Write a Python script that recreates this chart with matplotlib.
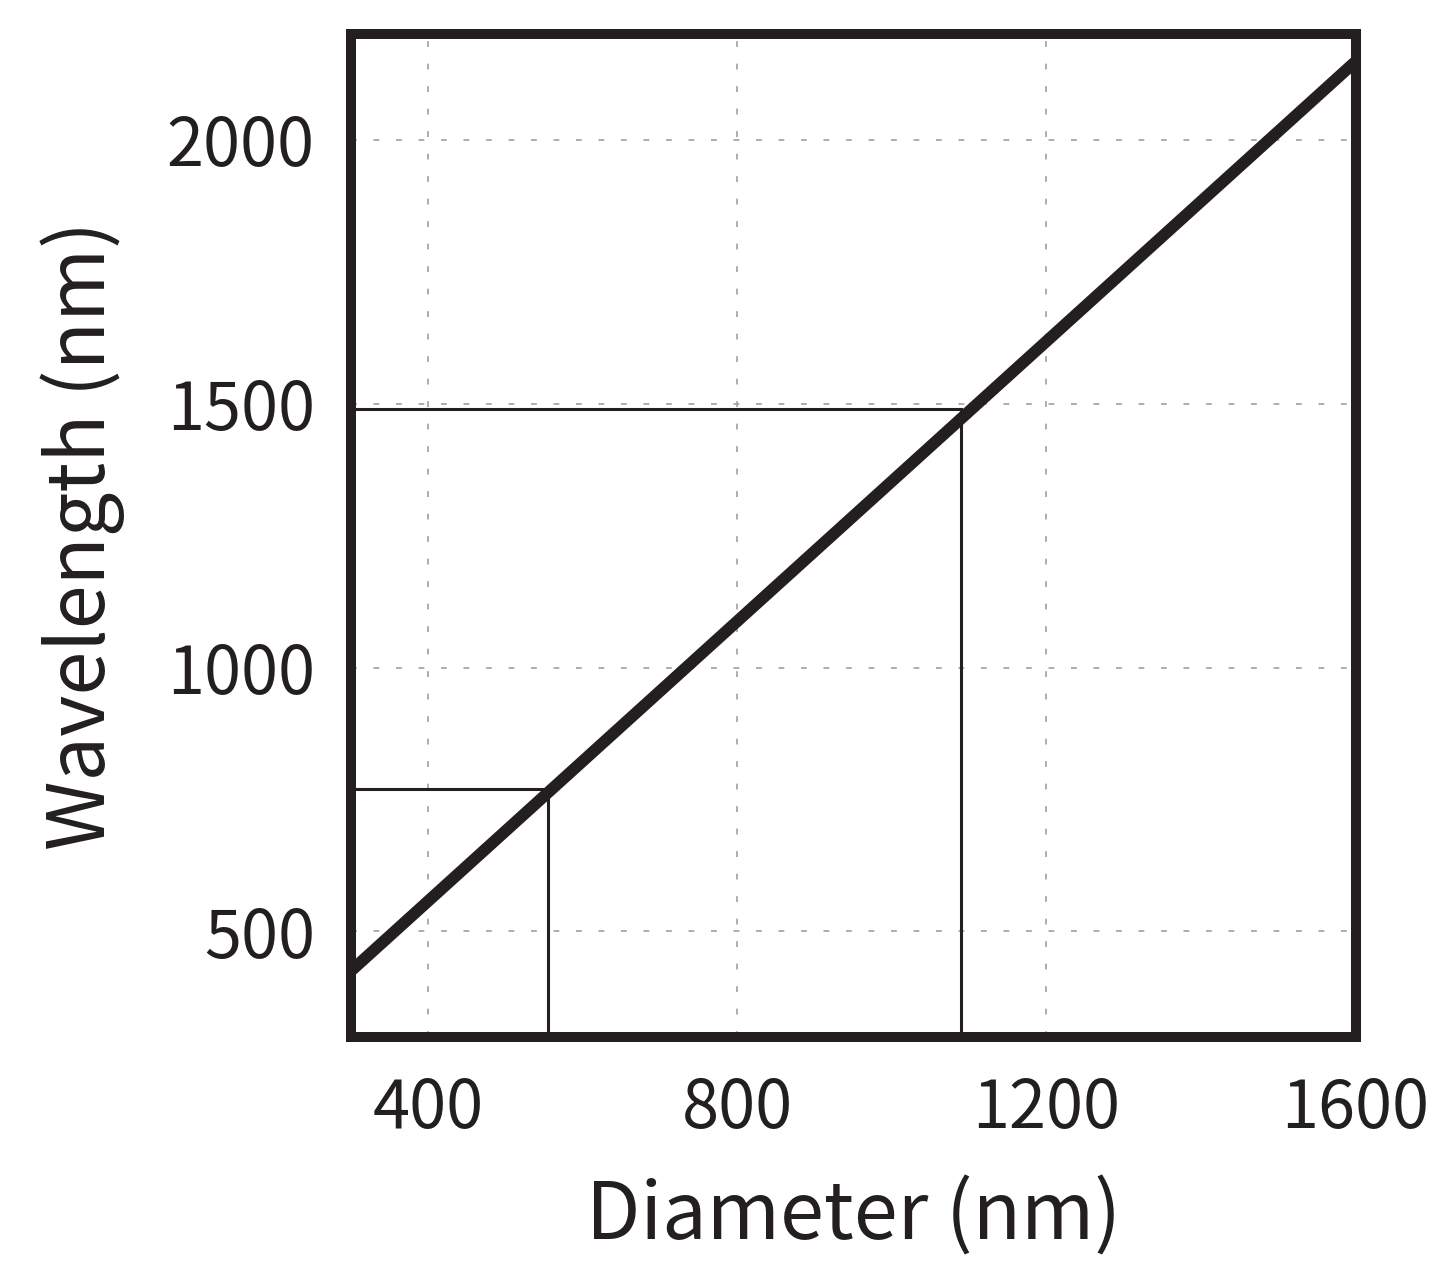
import matplotlib
matplotlib.use('Agg')
import matplotlib.pyplot as plt

plt.rcParams['font.family'] = ['Noto Sans CJK KR', 'DejaVu Sans']

# fitted line: diameter vs resonance wavelength
diameter = [300, 1600]
wavelength = [425, 2148]

# marked operating points
mark_d = [555, 1090]
mark_w = [770, 1490]

xticks = [400, 800, 1200, 1600]
yticks = [500, 1000, 1500, 2000]

ink = '#231f20'

fig = plt.figure(figsize=(14.56, 12.76), dpi=100)
ax = fig.add_axes([0.241, 0.1873, 0.69, 0.786])

ax.grid(True, color='#a0a0a0', linestyle=(0, (3.5, 10)), linewidth=1.2)
ax.set_axisbelow(True)

ax.plot(diameter, wavelength, color=ink, linewidth=8.5, solid_capstyle='butt', zorder=3)

for d, w in zip(mark_d, mark_w):
    ax.plot([300, d], [w, w], color=ink, linewidth=2.2, zorder=2)
    ax.plot([d, d], [w, 300], color=ink, linewidth=2.2, zorder=2)

ax.set_xlim(300, 1600)
ax.set_ylim(300, 2200)
ax.set_xticks(xticks)
ax.set_yticks(yticks)

ax.tick_params(direction='in', length=3, width=5, colors=ink, labelsize=48,
               top=True, right=True, pad=26)
ax.tick_params(axis='x', pad=28)
for s in ax.spines.values():
    s.set_linewidth(7.2)
    s.set_color(ink)

ax.set_xlabel('Diameter (nm)', fontsize=57, color=ink, labelpad=24)
ax.set_ylabel('Wavelength (nm)', fontsize=57, color=ink, labelpad=30)

fig.savefig('out.png', dpi=100)
